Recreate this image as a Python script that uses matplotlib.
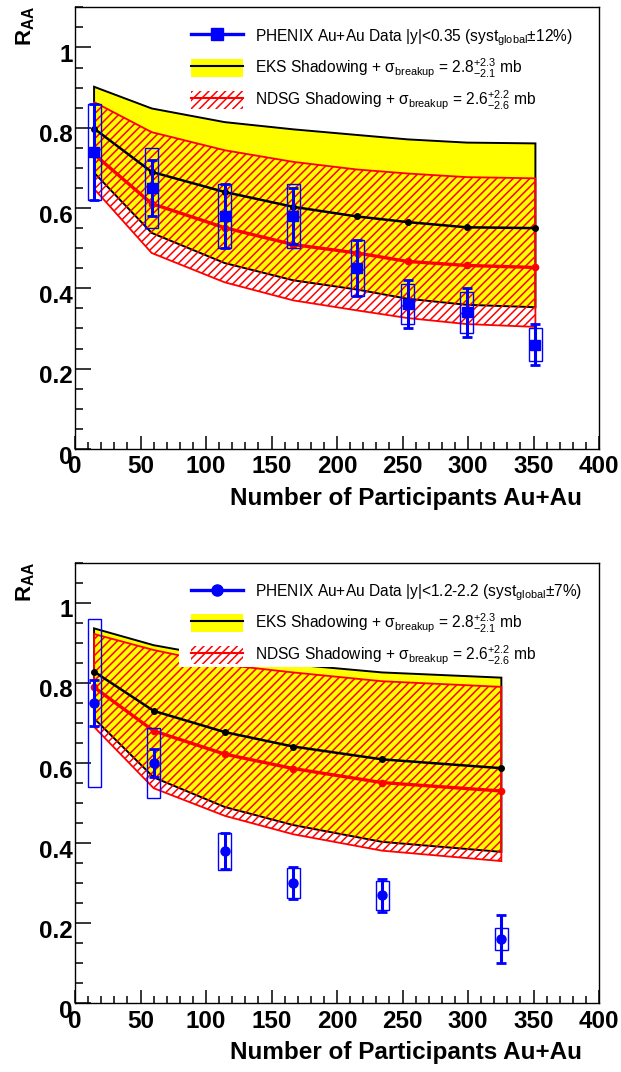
import matplotlib

matplotlib.use("Agg")
import matplotlib.pyplot as plt
import numpy as np
from matplotlib.lines import Line2D
from matplotlib.patches import Patch, Rectangle
from matplotlib.ticker import FixedLocator, MultipleLocator, FuncFormatter
from matplotlib.transforms import ScaledTranslation

plt.rcParams["font.family"] = ["Liberation Sans", "DejaVu Sans"]
plt.rcParams["mathtext.fontset"] = "custom"
plt.rcParams["mathtext.rm"] = "Liberation Sans"
plt.rcParams["mathtext.it"] = "Liberation Sans:italic"
plt.rcParams["mathtext.bf"] = "Liberation Sans:bold"
plt.rcParams["mathtext.sf"] = "Liberation Sans"
plt.rcParams["hatch.linewidth"] = 1.1

# ---- mid rapidity |y|<0.35 (top panel) ----
npart_mid = [14.5, 58.5, 114.2, 166.6, 215.3, 253.9, 299.0, 351.4]
raa_mid = [0.74, 0.65, 0.58, 0.58, 0.45, 0.36, 0.34, 0.26]
stat_mid = [0.12, 0.07, 0.08, 0.07, 0.07, 0.06, 0.06, 0.05]
syst_mid = [0.12, 0.10, 0.08, 0.08, 0.07, 0.05, 0.05, 0.04]
eks_mid = [0.798, 0.690, 0.640, 0.603, 0.579, 0.565, 0.552, 0.550]
eks_mid_hi = [0.902, 0.848, 0.814, 0.796, 0.782, 0.771, 0.763, 0.761]
eks_mid_lo = [0.688, 0.538, 0.463, 0.420, 0.397, 0.374, 0.359, 0.353]
ndsg_mid = [0.734, 0.611, 0.551, 0.509, 0.488, 0.467, 0.457, 0.452]
ndsg_mid_hi = [0.864, 0.789, 0.744, 0.715, 0.696, 0.686, 0.677, 0.674]
ndsg_mid_lo = [0.648, 0.488, 0.415, 0.370, 0.345, 0.326, 0.311, 0.304]

# ---- forward rapidity 1.2<|y|<2.2 (bottom panel) ----
npart_fwd = [14.5, 60.0, 114.3, 166.5, 234.4, 325.4]
raa_fwd = [0.75, 0.60, 0.38, 0.30, 0.27, 0.16]
stat_fwd = [0.057, 0.036, 0.045, 0.040, 0.041, 0.060]
syst_fwd = [0.21, 0.087, 0.046, 0.038, 0.036, 0.027]
eks_fwd = [0.828, 0.730, 0.677, 0.641, 0.609, 0.587]
eks_fwd_hi = [0.936, 0.894, 0.862, 0.846, 0.826, 0.813]
eks_fwd_lo = [0.711, 0.564, 0.490, 0.445, 0.403, 0.378]
ndsg_fwd = [0.789, 0.680, 0.622, 0.586, 0.551, 0.530]
ndsg_fwd_hi = [0.922, 0.882, 0.845, 0.826, 0.804, 0.790]
ndsg_fwd_lo = [0.690, 0.537, 0.468, 0.422, 0.381, 0.355]

xticks = [0, 50, 100, 150, 200, 250, 300, 350, 400]
yticks = [0, 0.2, 0.4, 0.6, 0.8, 1.0]

EKS_LABEL = r"EKS Shadowing + σ$_{\mathrm{breakup}}$ = 2.8$^{+2.3}_{-2.1}$ mb"
NDSG_LABEL = r"NDSG Shadowing + σ$_{\mathrm{breakup}}$ = 2.6$^{+2.2}_{-2.6}$ mb"


def band(ax, x, hi, lo, **kw):
    x = np.asarray(x)
    xs = np.concatenate([x, x[::-1]])
    ys = np.concatenate([np.asarray(hi), np.asarray(lo)[::-1]])
    ax.fill(xs, ys, **kw)


def panel(ax, x, raa, stat, syst, eks, eks_hi, eks_lo, ndsg, ndsg_hi, ndsg_lo, marker, data_label):
    band(ax, x, eks_hi, eks_lo, facecolor="yellow", edgecolor="black", lw=1.4, zorder=1)
    band(ax, x, ndsg_hi, ndsg_lo, facecolor="none", edgecolor="red", hatch="////", lw=1.3, zorder=2)
    ax.plot(x, eks, color="black", lw=1.8, marker="o", ms=4, zorder=3)
    ax.plot(x, ndsg, color="red", lw=2.4, marker="o", ms=4.5, zorder=3)

    # systematic boxes + statistical bars
    syst = np.asarray(syst)
    ax.bar(x, 2 * syst, bottom=np.asarray(raa) - syst, width=10, fill=False,
           edgecolor="blue", lw=1.0, zorder=5)
    ax.errorbar(x, raa, yerr=stat, fmt=marker, color="blue", ms=7 if marker == "s" else 6.5,
                elinewidth=2.2, capsize=3.3, capthick=2, zorder=6)

    ax.set_xlim(0, 400)
    ax.set_ylim(0, 1.1)
    ax.xaxis.set_major_locator(FixedLocator(xticks))
    ax.xaxis.set_minor_locator(MultipleLocator(10))
    ax.yaxis.set_major_locator(FixedLocator(yticks))
    ax.yaxis.set_minor_locator(MultipleLocator(0.05))
    ax.yaxis.set_major_formatter(FuncFormatter(lambda v, p: f"{v:g}"))
    ax.tick_params(which="both", direction="in", top=False, right=False, width=1.1,
                   labelsize=17.5)
    ax.tick_params(axis="y", which="major", length=11.2, pad=1.5)
    ax.tick_params(axis="y", which="minor", length=5.8)
    ax.tick_params(axis="x", which="major", length=9.4, pad=4.5)
    ax.tick_params(axis="x", which="minor", length=4.8)
    shift = ScaledTranslation(0, -4 / 72, ax.figure.dpi_scale_trans)
    for lab in ax.get_yticklabels():
        lab.set_fontweight("bold")
        lab.set_transform(lab.get_transform() + shift)
    for lab in ax.get_xticklabels():
        lab.set_fontweight("bold")
    for s in ax.spines.values():
        s.set_linewidth(1.0)

    ax.text(0.967, -0.112, "Number of Participants Au+Au", transform=ax.transAxes,
            ha="right", va="center", fontsize=17.5, fontweight="bold")
    ax.text(-0.094, 1.003, r"R$_{\mathbf{AA}}$", transform=ax.transAxes, rotation=90,
            ha="center", va="top", fontsize=16, fontweight="bold")

    # legend on a white box
    ax.add_patch(Rectangle((0.198, 0.763), 0.785, 0.232, transform=ax.transAxes,
                           facecolor="white", edgecolor="none", zorder=7))
    handles = [
        Line2D([], [], color="blue", lw=2.4, marker=marker, ms=8),
        (Patch(facecolor="yellow", lw=0), Line2D([], [], color="black", lw=1.5)),
        (Patch(facecolor="none", edgecolor="red", hatch="////", lw=0),
         Line2D([], [], color="red", lw=1.5)),
    ]
    leg = ax.legend(handles, [data_label, EKS_LABEL, NDSG_LABEL], loc="upper left",
                    bbox_to_anchor=(0.221, 0.955), borderpad=0, borderaxespad=0,
                    frameon=False, prop={"size": 11.2, "weight": "normal"},
                    handlelength=3.35, handleheight=1.4, handletextpad=0.78,
                    labelspacing=0.55)
    leg.set_zorder(8)


fig = plt.figure(figsize=(6.21, 10.72), dpi=100)
ax1 = fig.add_axes([0.1209, 0.5812, 0.8438, 0.4120])
ax2 = fig.add_axes([0.1209, 0.0641, 0.8438, 0.4110])

panel(ax1, npart_mid, raa_mid, stat_mid, syst_mid, eks_mid, eks_mid_hi, eks_mid_lo,
      ndsg_mid, ndsg_mid_hi, ndsg_mid_lo, "s",
      r"PHENIX Au+Au Data |y|<0.35 (syst$_{\mathrm{global}}$$\pm$12%)")
panel(ax2, npart_fwd, raa_fwd, stat_fwd, syst_fwd, eks_fwd, eks_fwd_hi, eks_fwd_lo,
      ndsg_fwd, ndsg_fwd_hi, ndsg_fwd_lo, "o",
      r"PHENIX Au+Au Data |y|<1.2-2.2 (syst$_{\mathrm{global}}$$\pm$7%)")

fig.savefig("out.png", dpi=100)
